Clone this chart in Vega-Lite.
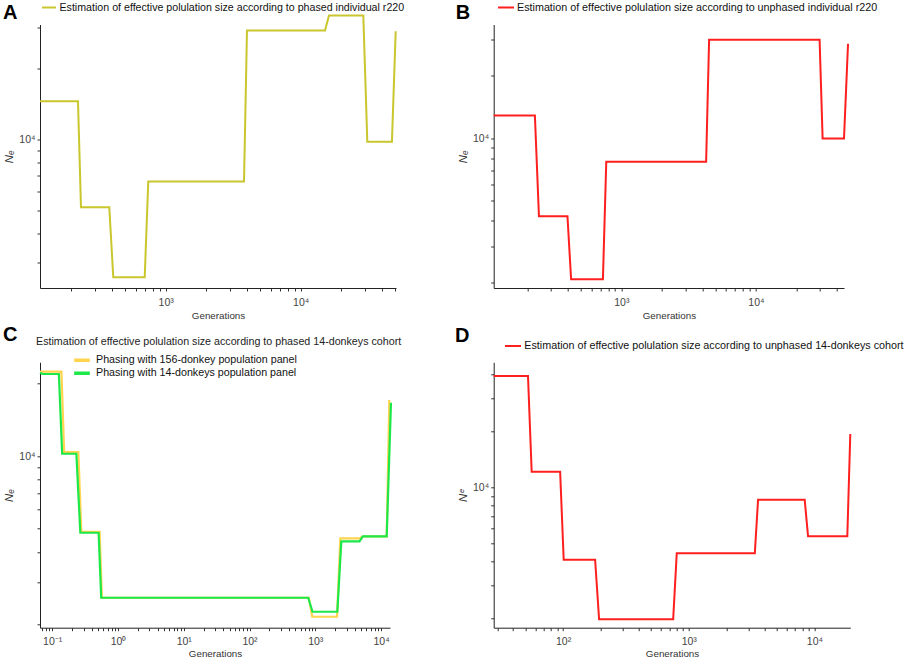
{
  "$schema": "https://vega.github.io/schema/vega-lite/v6.json",
  "background": "white",
  "padding": {"left": 3, "top": 1.5, "right": 0, "bottom": 0},
  "datasets": {
    "A": [
      {"gen": 117.2, "ne": 14550, "series": "Estimation of effective polulation size according to phased individual r220"},
      {"gen": 224, "ne": 14550, "series": "Estimation of effective polulation size according to phased individual r220"},
      {"gen": 235.8, "ne": 5150, "series": "Estimation of effective polulation size according to phased individual r220"},
      {"gen": 382, "ne": 5150, "series": "Estimation of effective polulation size according to phased individual r220"},
      {"gen": 409, "ne": 2595, "series": "Estimation of effective polulation size according to phased individual r220"},
      {"gen": 699, "ne": 2595, "series": "Estimation of effective polulation size according to phased individual r220"},
      {"gen": 743, "ne": 6625, "series": "Estimation of effective polulation size according to phased individual r220"},
      {"gen": 3802, "ne": 6625, "series": "Estimation of effective polulation size according to phased individual r220"},
      {"gen": 4000, "ne": 29090, "series": "Estimation of effective polulation size according to phased individual r220"},
      {"gen": 15140, "ne": 29090, "series": "Estimation of effective polulation size according to phased individual r220"},
      {"gen": 16200, "ne": 33700, "series": "Estimation of effective polulation size according to phased individual r220"},
      {"gen": 29090, "ne": 33700, "series": "Estimation of effective polulation size according to phased individual r220"},
      {"gen": 31140, "ne": 9777, "series": "Estimation of effective polulation size according to phased individual r220"},
      {"gen": 47400, "ne": 9777, "series": "Estimation of effective polulation size according to phased individual r220"},
      {"gen": 50530, "ne": 28900, "series": "Estimation of effective polulation size according to phased individual r220"}
    ],
    "B": [
      {"gen": 112.7, "ne": 12870, "series": "Estimation of effective polulation size according to unphased individual r220"},
      {"gen": 228, "ne": 12870, "series": "Estimation of effective polulation size according to unphased individual r220"},
      {"gen": 244.4, "ne": 4200, "series": "Estimation of effective polulation size according to unphased individual r220"},
      {"gen": 398, "ne": 4200, "series": "Estimation of effective polulation size according to unphased individual r220"},
      {"gen": 423.6, "ne": 2084, "series": "Estimation of effective polulation size according to unphased individual r220"},
      {"gen": 730, "ne": 2084, "series": "Estimation of effective polulation size according to unphased individual r220"},
      {"gen": 773, "ne": 7690, "series": "Estimation of effective polulation size according to unphased individual r220"},
      {"gen": 4266, "ne": 7690, "series": "Estimation of effective polulation size according to unphased individual r220"},
      {"gen": 4490, "ne": 29880, "series": "Estimation of effective polulation size according to unphased individual r220"},
      {"gen": 29720, "ne": 29880, "series": "Estimation of effective polulation size according to unphased individual r220"},
      {"gen": 31300, "ne": 9967, "series": "Estimation of effective polulation size according to unphased individual r220"},
      {"gen": 45120, "ne": 9967, "series": "Estimation of effective polulation size according to unphased individual r220"},
      {"gen": 48340, "ne": 28580, "series": "Estimation of effective polulation size according to unphased individual r220"}
    ],
    "C1": [
      {"gen": 0.0652, "ne": 22380, "series": "Phasing with 156-donkey population panel"},
      {"gen": 0.1381, "ne": 22380, "series": "Phasing with 156-donkey population panel"},
      {"gen": 0.1518, "ne": 10390, "series": "Phasing with 156-donkey population panel"},
      {"gen": 0.2495, "ne": 10390, "series": "Phasing with 156-donkey population panel"},
      {"gen": 0.2771, "ne": 4852, "series": "Phasing with 156-donkey population panel"},
      {"gen": 0.5255, "ne": 4852, "series": "Phasing with 156-donkey population panel"},
      {"gen": 0.5691, "ne": 2582, "series": "Phasing with 156-donkey population panel"},
      {"gen": 797.6, "ne": 2582, "series": "Phasing with 156-donkey population panel"},
      {"gen": 897.6, "ne": 2154, "series": "Phasing with 156-donkey population panel"},
      {"gen": 2142, "ne": 2154, "series": "Phasing with 156-donkey population panel"},
      {"gen": 2403, "ne": 4555, "series": "Phasing with 156-donkey population panel"},
      {"gen": 4700, "ne": 4555, "series": "Phasing with 156-donkey population panel"},
      {"gen": 5291, "ne": 4642, "series": "Phasing with 156-donkey population panel"},
      {"gen": 12190, "ne": 4642, "series": "Phasing with 156-donkey population panel"},
      {"gen": 13350, "ne": 17080, "series": "Phasing with 156-donkey population panel"}
    ],
    "C2": [
      {"gen": 0.0652, "ne": 22160, "series": "Phasing with 14-donkeys population panel"},
      {"gen": 0.0714, "ne": 21890, "series": "Phasing with 14-donkeys population panel"},
      {"gen": 0.1263, "ne": 21890, "series": "Phasing with 14-donkeys population panel"},
      {"gen": 0.1416, "ne": 10220, "series": "Phasing with 14-donkeys population panel"},
      {"gen": 0.2329, "ne": 10220, "series": "Phasing with 14-donkeys population panel"},
      {"gen": 0.2676, "ne": 4806, "series": "Phasing with 14-donkeys population panel"},
      {"gen": 0.5075, "ne": 4806, "series": "Phasing with 14-donkeys population panel"},
      {"gen": 0.5555, "ne": 2582, "series": "Phasing with 14-donkeys population panel"},
      {"gen": 781, "ne": 2582, "series": "Phasing with 14-donkeys population panel"},
      {"gen": 907.2, "ne": 2259, "series": "Phasing with 14-donkeys population panel"},
      {"gen": 2164, "ne": 2259, "series": "Phasing with 14-donkeys population panel"},
      {"gen": 2488, "ne": 4426, "series": "Phasing with 14-donkeys population panel"},
      {"gen": 4700, "ne": 4426, "series": "Phasing with 14-donkeys population panel"},
      {"gen": 5291, "ne": 4642, "series": "Phasing with 14-donkeys population panel"},
      {"gen": 12190, "ne": 4642, "series": "Phasing with 14-donkeys population panel"},
      {"gen": 14160, "ne": 16640, "series": "Phasing with 14-donkeys population panel"}
    ],
    "D": [
      {"gen": 28.03, "ne": 39370, "series": "Estimation of effective polulation size according to unphased 14-donkeys cohort"},
      {"gen": 52.55, "ne": 39370, "series": "Estimation of effective polulation size according to unphased 14-donkeys cohort"},
      {"gen": 56.22, "ne": 12119, "series": "Estimation of effective polulation size according to unphased 14-donkeys cohort"},
      {"gen": 94.7, "ne": 12119, "series": "Estimation of effective polulation size according to unphased 14-donkeys cohort"},
      {"gen": 101.1, "ne": 4101, "series": "Estimation of effective polulation size according to unphased 14-donkeys cohort"},
      {"gen": 179.8, "ne": 4101, "series": "Estimation of effective polulation size according to unphased 14-donkeys cohort"},
      {"gen": 193.4, "ne": 1968, "series": "Estimation of effective polulation size according to unphased 14-donkeys cohort"},
      {"gen": 751.7, "ne": 1968, "series": "Estimation of effective polulation size according to unphased 14-donkeys cohort"},
      {"gen": 802.6, "ne": 4437, "series": "Estimation of effective polulation size according to unphased 14-donkeys cohort"},
      {"gen": 3356, "ne": 4437, "series": "Estimation of effective polulation size according to unphased 14-donkeys cohort"},
      {"gen": 3562, "ne": 8584, "series": "Estimation of effective polulation size according to unphased 14-donkeys cohort"},
      {"gen": 8370, "ne": 8584, "series": "Estimation of effective polulation size according to unphased 14-donkeys cohort"},
      {"gen": 8903, "ne": 5470, "series": "Estimation of effective polulation size according to unphased 14-donkeys cohort"},
      {"gen": 18280, "ne": 5470, "series": "Estimation of effective polulation size according to unphased 14-donkeys cohort"},
      {"gen": 19310, "ne": 19280, "series": "Estimation of effective polulation size according to unphased 14-donkeys cohort"}
    ]
  },
  "columns": 2,
  "align": "none",
  "bounds": "flush",
  "spacing": {"row": 73.8, "column": 97.7},
  "resolve": {"scale": {"color": "independent"}, "legend": {"color": "independent"}},
  "concat": [
    {
      "width": 356,
      "height": 263.5,
      "title": {"text": "A", "anchor": "start", "frame": "group", "fontSize": 20, "fontWeight": "bold", "baseline": "alphabetic", "offset": 0, "dx": -37, "dy": 37},
      "data": {"name": "A"},
      "mark": {"type": "line", "strokeWidth": 2},
      "encoding": {
        "x": {"field": "gen", "type": "quantitative", "title": "Generations",
          "scale": {"type": "log", "domain": [117.2, 50800], "nice": false},
          "axis": {"values": [200, 300, 400, 500, 600, 700, 800, 900, 1000, 2000, 3000, 4000, 5000, 6000, 7000, 8000, 9000, 10000, 20000, 30000, 40000, 50000],
            "labelExpr": "datum.value == 1000 ? '10³' : datum.value == 10000 ? '10⁴' : ''"}},
        "y": {"field": "ne", "type": "quantitative", "title": "Nₑ",
          "scale": {"type": "log", "domain": [2334, 30860], "nice": false},
          "axis": {"values": [3000, 4000, 5000, 6000, 7000, 8000, 9000, 10000, 20000, 30000],
            "labelExpr": "datum.value == 10000 ? '10⁴' : ''"}},
        "color": {"field": "series", "type": "nominal", "scale": {"range": ["#c9c62e"]},
          "legend": {"orient": "none", "legendX": 1, "legendY": -23, "symbolSize": 196, "labelOffset": 2.5, "labelFontSize": 10.65}}
      }
    },
    {
      "width": 350.3,
      "height": 263.5,
      "title": {"text": "B", "anchor": "start", "frame": "group", "fontSize": 20, "fontWeight": "bold", "baseline": "alphabetic", "offset": 0, "dx": -38, "dy": 37},
      "data": {"name": "B"},
      "mark": {"type": "line", "strokeWidth": 2},
      "encoding": {
        "x": {"field": "gen", "type": "quantitative", "title": "Generations",
          "scale": {"type": "log", "domain": [112.7, 45120], "nice": false},
          "axis": {"values": [200, 300, 400, 500, 600, 700, 800, 900, 1000, 2000, 3000, 4000, 5000, 6000, 7000, 8000, 9000, 10000, 20000, 30000, 40000],
            "labelExpr": "datum.value == 1000 ? '10³' : datum.value == 10000 ? '10⁴' : ''"}},
        "y": {"field": "ne", "type": "quantitative", "title": "Nₑ",
          "scale": {"type": "log", "domain": [1889, 35420], "nice": false},
          "axis": {"values": [2000, 3000, 4000, 5000, 6000, 7000, 8000, 9000, 10000, 20000, 30000],
            "labelExpr": "datum.value == 10000 ? '10⁴' : ''"}},
        "color": {"field": "series", "type": "nominal", "scale": {"range": ["#ff1f1f"]},
          "legend": {"orient": "none", "legendX": 3.3, "legendY": -23, "symbolSize": 256, "labelOffset": 2}}
      }
    },
    {
      "width": 350,
      "height": 265.4,
      "title": {"text": "C", "anchor": "start", "frame": "group", "fontSize": 20, "fontWeight": "bold", "baseline": "alphabetic", "offset": 0, "dx": -37, "dy": 23.7},
      "encoding": {
        "x": {"field": "gen", "type": "quantitative", "title": "Generations",
          "scale": {"type": "log", "domain": [0.0652, 13680], "nice": false},
          "axis": {"titlePadding": 1, "values": [0.07, 0.08, 0.09, 0.1, 0.2, 0.3, 0.4, 0.5, 0.6, 0.7, 0.8, 0.9, 1, 2, 3, 4, 5, 6, 7, 8, 9, 10, 20, 30, 40, 50, 60, 70, 80, 90, 100, 200, 300, 400, 500, 600, 700, 800, 900, 1000, 2000, 3000, 4000, 5000, 6000, 7000, 8000, 9000, 10000],
            "labelExpr": "datum.value == 0.1 ? '10⁻¹' : datum.value == 1 ? '10⁰' : datum.value == 10 ? '10¹' : datum.value == 100 ? '10²' : datum.value == 1000 ? '10³' : datum.value == 10000 ? '10⁴' : ''"}},
        "y": {"field": "ne", "type": "quantitative", "title": "Nₑ",
          "scale": {"type": "log", "domain": [1940, 24480], "nice": false},
          "axis": {"values": [2000, 3000, 4000, 5000, 6000, 7000, 8000, 9000, 10000, 20000],
            "labelExpr": "datum.value == 10000 ? '10⁴' : ''"}},
        "color": {"field": "series", "type": "nominal",
          "scale": {"domain": ["Phasing with 156-donkey population panel", "Phasing with 14-donkeys population panel"], "range": ["#ffd54f", "#1de84a"]},
          "legend": {"orient": "none", "legendX": -4, "legendY": -25, "title": "Estimation of effective polulation size according to phased 14-donkeys cohort",
            "titleFontSize": 10.7, "titleFontWeight": "normal", "titleColor": "#222", "titlePadding": 6, "titleLimit": 1000,
            "symbolSize": 246, "symbolStrokeWidth": 3.5, "symbolOffset": 36, "labelOffset": 4, "labelFontSize": 10.7, "clipHeight": 12.6}}
      },
      "layer": [
        {"data": {"name": "C1"}, "mark": {"type": "line", "strokeWidth": 2.2}},
        {"data": {"name": "C2"}, "mark": {"type": "line", "strokeWidth": 2.2}}
      ]
    },
    {
      "width": 356.6,
      "height": 265.4,
      "title": {"text": "D", "anchor": "start", "frame": "group", "fontSize": 20, "fontWeight": "bold", "baseline": "alphabetic", "offset": 0, "dx": -38.7, "dy": 22.3},
      "data": {"name": "D"},
      "mark": {"type": "line", "strokeWidth": 2},
      "encoding": {
        "x": {"field": "gen", "type": "quantitative", "title": "Generations",
          "scale": {"type": "log", "domain": [28.03, 19310], "nice": false},
          "axis": {"titlePadding": 1, "values": [30, 40, 50, 60, 70, 80, 90, 100, 200, 300, 400, 500, 600, 700, 800, 900, 1000, 2000, 3000, 4000, 5000, 6000, 7000, 8000, 9000, 10000],
            "labelExpr": "datum.value == 100 ? '10²' : datum.value == 1000 ? '10³' : datum.value == 10000 ? '10⁴' : ''"}},
        "y": {"field": "ne", "type": "quantitative", "title": "Nᵉ",
          "scale": {"type": "log", "domain": [1775, 46600], "nice": false},
          "axis": {"values": [2000, 3000, 4000, 5000, 6000, 7000, 8000, 9000, 10000, 20000, 30000, 40000],
            "labelExpr": "datum.value == 10000 ? '10⁴' : ''"}},
        "color": {"field": "series", "type": "nominal", "scale": {"range": ["#ff1f1f"]},
          "legend": {"orient": "none", "legendX": 10.3, "legendY": -22.2, "symbolSize": 256, "labelOffset": 2.3}}
      }
    }
  ],
  "config": {
    "font": "Liberation Sans",
    "view": {"stroke": null},
    "axis": {"grid": false, "domainColor": "#222", "tickColor": "#333", "tickSize": 3, "labelFontSize": 10.5, "labelColor": "#444",
      "labelPadding": 2, "titleFontSize": 10.5, "titleFontWeight": "normal", "titleColor": "#333", "labelOverlap": false, "labelFlush": false},
    "axisX": {"labelPadding": 6, "titlePadding": 3, "titleFontSize": 9.8},
    "axisY": {"titleFontSize": 11.5, "titleFontStyle": "italic", "titlePadding": 4},
    "legend": {"title": null, "symbolType": "stroke", "symbolStrokeWidth": 2, "labelFontSize": 10.75, "labelColor": "#111", "labelLimit": 1000,
      "padding": 0, "clipHeight": 12, "rowPadding": 0},
    "title": {"color": "#000"}
  }
}
